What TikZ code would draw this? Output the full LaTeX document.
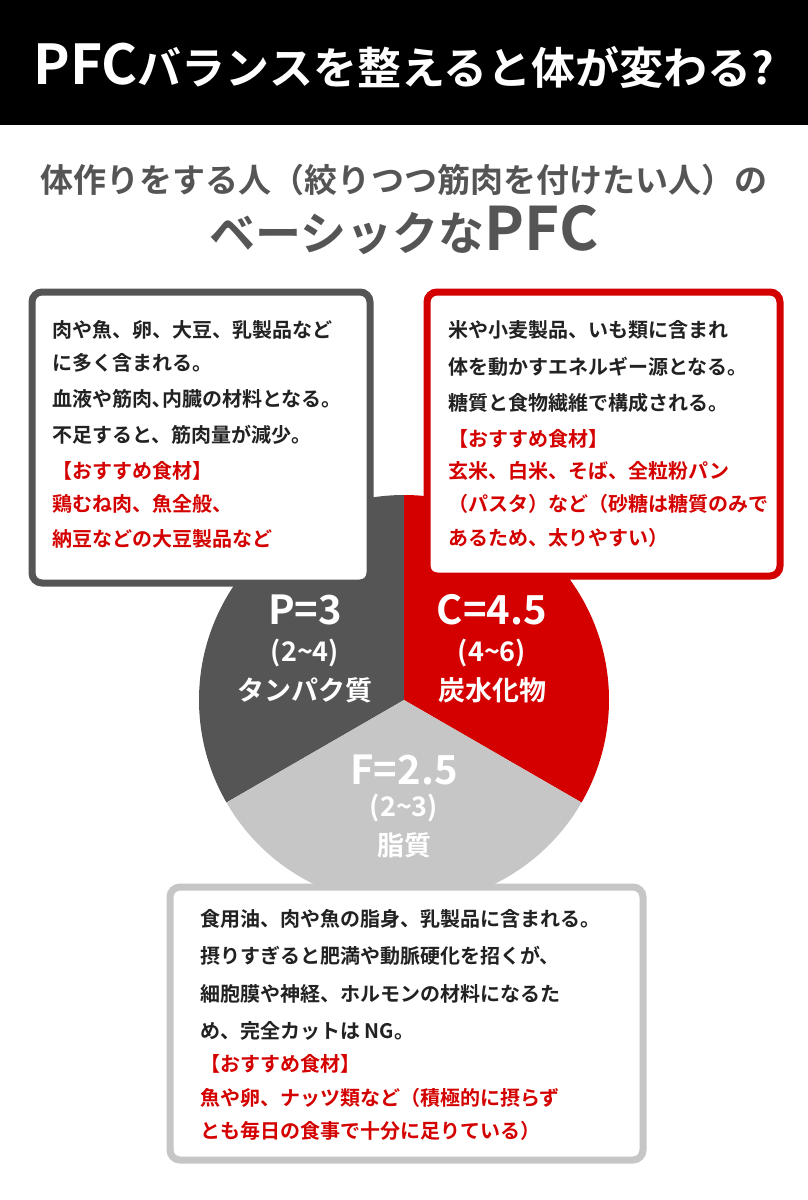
\documentclass[tikz,border=0pt]{standalone}
\usepackage{fontspec}
\setmainfont{Noto Sans CJK JP}[BoldFont={* Bold}]
\definecolor{pgray}{HTML}{555555}
\definecolor{pred}{HTML}{D40000}
\definecolor{fgray}{HTML}{C6C6C6}
\definecolor{txt}{HTML}{222222}
\begin{document}
\begin{tikzpicture}[x=1pt,y=-1pt,
  box/.style={line width=7pt,rounded corners=10pt,fill=white},
  bt/.style={anchor=west,inner sep=0,text=txt,font=\fontsize{20}{24}\selectfont\bfseries},
  rt/.style={bt,text=pred},
  lab/.style={text=white,inner sep=0,font=\bfseries}]
\useasboundingbox (0,0) rectangle (808,1200);
\fill[white] (0,0) rectangle (808,1200);
\fill[black] (0,0) rectangle (808,125);
\node[text=white,inner sep=0] (title) at (404,66) {\bfseries\fontsize{55}{60}\selectfont PFC\fontsize{44}{50}\selectfont バランスを整えると体が変わる?};
\node[text=pgray,inner sep=0] (sub1) at (404,180) {\bfseries\fontsize{33}{38}\selectfont 体作りをする人（絞りつつ筋肉を付けたい人）の};
\node[text=pgray,inner sep=0] (sub2) at (404,230) {\bfseries\fontsize{46}{52}\selectfont ベーシックな\fontsize{60}{64}\selectfont PFC};
% pie
\fill[pgray] (404,700) -- ++(90:205pt) arc[start angle=90,end angle=210,radius=205pt] -- cycle;
\fill[pred] (404,700) -- ++(90:205pt) arc[start angle=90,end angle=-30,radius=205pt] -- cycle;
\fill[fgray] (404,700) -- ++(210:205pt) arc[start angle=210,end angle=330,radius=205pt] -- cycle;
\node[lab,font=\bfseries\fontsize{40}{44}\selectfont] (p1) at (305,610) {P=3};
\node[lab,font=\bfseries\fontsize{27}{30}\selectfont] (p2) at (305,653) {(2\textasciitilde 4)};
\node[lab,font=\bfseries\fontsize{27}{30}\selectfont] (p3) at (305,690) {タンパク質};
\node[lab,font=\bfseries\fontsize{40}{44}\selectfont] (c1) at (492,610) {C=4.5};
\node[lab,font=\bfseries\fontsize{27}{30}\selectfont] (c2) at (492,653) {(4\textasciitilde 6)};
\node[lab,font=\bfseries\fontsize{27}{30}\selectfont] (c3) at (492,690) {炭水化物};
\node[lab,font=\bfseries\fontsize{40}{44}\selectfont] (f1) at (404,770) {F=2.5};
\node[lab,font=\bfseries\fontsize{27}{30}\selectfont] (f2) at (404,808) {(2\textasciitilde 3)};
\node[lab,font=\bfseries\fontsize{27}{30}\selectfont] (f3) at (404,845) {脂質};
% boxes
\draw[box,draw=pgray] (32,292) rectangle (370,583);
\node[bt] at (52,330) {肉や魚、卵、大豆、乳製品など};
\node[bt] at (52,363) {に多く含まれる。};
\node[bt] at (52,399) {血液や筋肉､内臓の材料となる。};
\node[bt] at (52,435) {不足すると、筋肉量が減少。};
\node[rt] at (52,471) {【おすすめ食材】};
\node[rt] at (52,504) {鶏むね肉、魚全般、};
\node[rt] at (52,539) {納豆などの大豆製品など};
\draw[box,draw=pred] (427,292) rectangle (780,576);
\node[bt] at (448,330) {米や小麦製品、いも類に含まれ};
\node[bt] at (448,367) {体を動かすエネルギー源となる。};
\node[bt] at (448,403) {糖質と食物繊維で構成される。};
\node[rt] at (448,439) {【おすすめ食材】};
\node[rt] at (448,471) {玄米、白米、そば、全粒粉パン};
\node[rt] at (448,504) {（パスタ）など（砂糖は糖質のみで};
\node[rt] at (448,538) {あるため、太りやすい）};
\draw[box,draw=fgray] (170,887) rectangle (643,1160);
\node[bt] at (200,919) {食用油、肉や魚の脂身、乳製品に含まれる。};
\node[bt] at (200,956) {摂りすぎると肥満や動脈硬化を招くが、};
\node[bt] at (200,994) {細胞膜や神経、ホルモンの材料になるた};
\node[bt] at (200,1031) {め、完全カットは NG。};
\node[rt] at (200,1064) {【おすすめ食材】};
\node[rt] at (200,1098) {魚や卵、ナッツ類など（積極的に摂らず};
\node[rt] at (200,1131) {とも毎日の食事で十分に足りている）};
\end{tikzpicture}
\end{document}
